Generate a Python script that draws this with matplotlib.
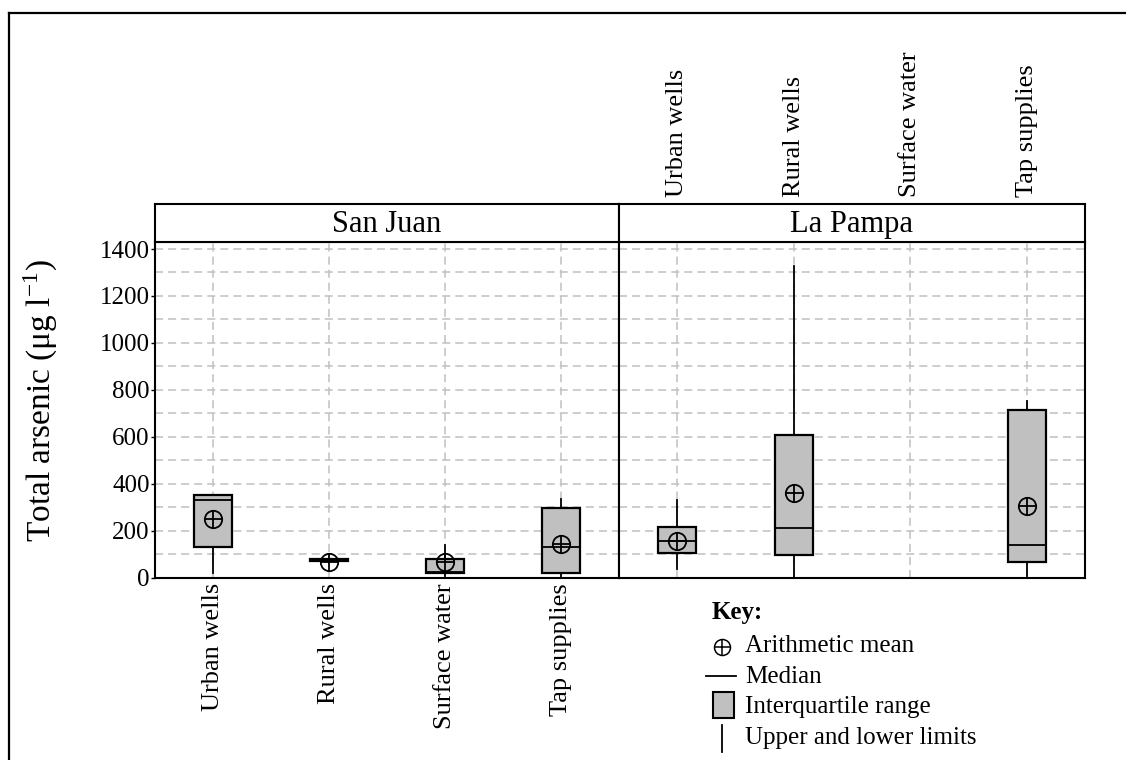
import numpy as np
import matplotlib
matplotlib.use("Agg")
import matplotlib.pyplot as plt
from matplotlib.patches import Rectangle
from matplotlib.lines import Line2D

plt.rcParams['font.family'] = ['Liberation Serif', 'DejaVu Serif']
plt.rcParams['mathtext.fontset'] = 'stix'
plt.rcParams['lines.scale_dashes'] = False

# ---------------- data ----------------
categories = ["Urban wells", "Rural wells", "Surface water", "Tap supplies"]
regions = ["San Juan", "La Pampa"]

sj_low = [21, 70, 7, 0]
sj_q1 = [128, 70, 19, 19]
sj_med = [331, 74, 22, 131]
sj_q3 = [352, 78, 78, 297]
sj_high = [352, 78, 140, 335]
sj_mean = [250, 64, 67, 143]

lp_low = [36, 0, np.nan, 7]
lp_q1 = [103, 96, np.nan, 68]
lp_med = [154, 211, np.nan, 137]
lp_q3 = [214, 606, np.nan, 715]
lp_high = [331, 1329, np.nan, 751]
lp_mean = [157, 359, np.nan, 306]

y_ticks = [0, 200, 400, 600, 800, 1000, 1200, 1400]

# ---------------- layout ----------------
W, H = 1126, 760
fig = plt.figure(figsize=(W / 100, H / 100), dpi=100)

def fx(px):
    return px / W

def fy(py):
    return 1 - py / H

ax_top, ax_bot = 241.5, 577.5
strip_top = 203.5
panels = [(155, 619), (619, 1085)]
positions = np.arange(len(categories)) + 0.5
GRID = '#c0c0c0'
DASH = (0, (5.8, 3.6))
BOXFILL = '#c0c0c0'

all_data = [
    (sj_low, sj_q1, sj_med, sj_q3, sj_high, sj_mean),
    (lp_low, lp_q1, lp_med, lp_q3, lp_high, lp_mean),
]

axes = []
for i, ((x0, x1), region, data) in enumerate(zip(panels, regions, all_data)):
    ax = fig.add_axes([fx(x0), fy(ax_bot), fx(x1 - x0), (ax_bot - ax_top) / H])
    axes.append(ax)
    ax.set_xlim(0, 4)
    ax.set_ylim(0, 1432)
    for s in ax.spines.values():
        s.set_linewidth(1.5)
        s.set_color('black')
    # grid
    for yv in np.arange(100, 1500, 100):
        ax.axhline(yv, color=GRID, lw=1.1, ls=DASH, zorder=0)
    for xv in positions:
        ax.axvline(xv, color=GRID, lw=1.1, ls=DASH, zorder=0)

    low, q1, med, q3, high, mean = data
    stats, pos = [], []
    for j in range(len(categories)):
        if np.isnan(med[j]):
            continue
        stats.append(dict(whislo=low[j], q1=q1[j], med=med[j], q3=q3[j],
                          whishi=high[j], mean=mean[j], fliers=[]))
        pos.append(positions[j])
    ax.bxp(stats, positions=pos, widths=0.33, patch_artist=True,
           showcaps=False, showfliers=False, showmeans=True,
           boxprops=dict(facecolor=BOXFILL, edgecolor='black', linewidth=1.6),
           medianprops=dict(color='black', linewidth=1.3),
           whiskerprops=dict(color='black', linewidth=1.3),
           meanprops=dict(marker='o', markerfacecolor='none',
                          markeredgecolor='black', markersize=12.5,
                          markeredgewidth=1.3),
           manage_ticks=False, zorder=3)
    ax.plot(pos, [s['mean'] for s in stats], ls='none', marker='+',
            color='black', markersize=12.5, markeredgewidth=1.3, zorder=5)

    ax.set_xticks(positions)
    if i == 0:
        ax.set_xticklabels(categories, rotation=90, fontsize=19)
        ax.tick_params(axis='x', length=0, pad=4)
        ax.set_yticks(y_ticks)
        ax.set_yticklabels([str(v) for v in y_ticks], fontsize=18)
        ax.tick_params(axis='y', direction='out', length=3, width=1, pad=0.8)
    else:
        ax.set_xticklabels([])
        ax.tick_params(axis='x', length=0)
        ax.set_yticks([])

    # strip
    st = fig.add_axes([fx(x0), fy(ax_top), fx(x1 - x0), (ax_top - strip_top) / H])
    st.set_xlim(0, 4)
    st.set_ylim(0, 1)
    st.set_yticks([])
    for s in st.spines.values():
        s.set_linewidth(1.5)
    st.text(0.5, 0.45, region, transform=st.transAxes, ha='center',
            va='center', fontsize=22)
    if i == 1:
        st.set_xticks(positions)
        st.set_xticklabels(categories, rotation=90, fontsize=19)
        st.tick_params(axis='x', top=True, bottom=False, labeltop=True,
                       labelbottom=False, length=0, pad=4.5)
    else:
        st.set_xticks([])

# y label
fig.text(fx(40), fy(400), r'Total arsenic ($\mathregular{\mu}$g l$^{\mathregular{-1}}$)',
         rotation=90, ha='center', va='center', fontsize=24)

# ---------------- key ----------------
ov = fig.add_axes([0, 0, 1, 1], facecolor='none')
ov.set_xlim(0, W)
ov.set_ylim(H, 0)
ov.axis('off')
FS = 18
ov.text(712, 612, 'Key:', fontsize=FS, fontweight='bold', va='center', ha='left')
ov.plot([722], [647], marker='o', mfc='none', mec='black', ms=11.5, mew=1.1)
ov.plot([722], [647], marker='+', color='black', ms=11.5, mew=1.1)
ov.text(745, 646, 'Arithmetic mean', fontsize=FS, va='center', ha='left')
ov.add_line(Line2D([706, 736], [676, 676], color='black', lw=1.3))
ov.text(745, 677, 'Median', fontsize=FS, va='center', ha='left')
ov.add_patch(Rectangle((713, 692), 21, 26, facecolor=BOXFILL,
                       edgecolor='black', lw=1.5))
ov.text(745, 707, 'Interquartile range', fontsize=FS, va='center', ha='left')
ov.add_line(Line2D([722, 722], [725, 752], color='black', lw=1.3))
ov.text(745, 738, 'Upper and lower limits', fontsize=FS, va='center', ha='left')

# outer border
ov.add_line(Line2D([9, W + 2], [13, 13], color='black', lw=1.6, clip_on=False))
ov.add_line(Line2D([9, 9], [13, H + 2], color='black', lw=1.6, clip_on=False))

fig.savefig('out.png', dpi=100)
